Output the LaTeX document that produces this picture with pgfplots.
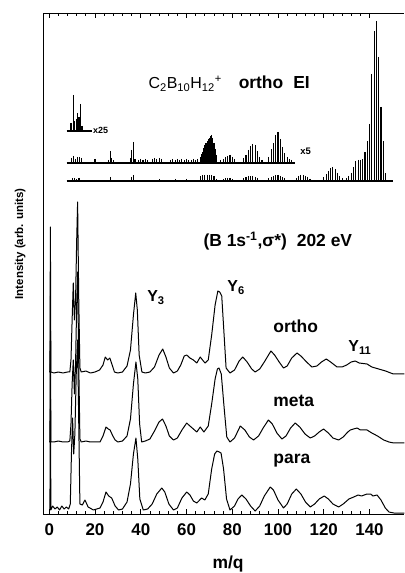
\documentclass[border=0pt]{standalone}
\usepackage{fontspec}
\setmainfont{Liberation Sans}
\usepackage{pgfplots}
\usepackage{pgfplotstable}
\pgfplotsset{compat=1.18}

% photoionisation mass spectra, offset traces (intensity in arb. units)
\pgfplotstableread{
m I
0.0 142
0.3 142
0.5 287
0.7 142
2 141
4 142
6 141
8 142
9.0 142
9.5 154
10.0 194
10.5 231
11.0 194
11.5 214
12.0 274
12.4 312
12.9 214
13.4 146
14 142
16 143
18 141
20 142
22 144
23.5 149
24.5 157
25.5 154
26.5 156
27.5 149
28.5 142
30 141
32 142
34 148
35.5 164
36.8 199
37.8 221
38.5 204
39.3 159
40.5 142
42 141
44 142
46 147
48 159
49.6 165
51 157
52.5 146
54.3 141
56 143
57.5 149
59 158
60.1 159
61.5 156
63 154
64.5 151
66 157
67 154
68.1 151
69.5 154
71 179
72.5 209
73.7 223
74.5 222
75.4 218
76.3 184
77.3 146
79 141
81 144
83 153
84.6 157
86.5 152
88.5 145
90 142
92 145
94 152
96.9 163
98.5 159
100.5 152
102.4 146
104 148
106 156
108.3 161
110 158
112.5 152
114.8 147
117 148
119 152
121.1 155
123 152
125.8 147
128 147
130 149
132 152
133.8 153
135.5 151
138.9 150
141 147
144 145
147 143
150.4 140
155.2 140
}\ortho

\pgfplotstableread{
m I
0.0 72
0.3 72
0.5 218
0.7 72
2 72
4 73
6 72
8 72
9.0 73
9.5 90
10.0 130
10.5 154
11.0 120
11.5 150
12.0 210
12.4 242
12.9 150
13.4 75
14 72
16 73
18 72
20 72
22.2 72
23.5 78
24.8 87
25.8 85
26.6 84
27.8 78
28.8 74
30 72
32 73
34 78
35.5 95
36.8 130
37.9 152
38.7 135
39.5 90
40.4 72
42 73
44 75
46 83
48 92
49.5 95
51 88
52.5 78
54.3 74
56 76
58 84
60.1 91
61 89
62.5 86
64.5 82
66 87
67.6 82
69.5 88
71 110
72.5 135
73.5 145
74.2 146
75.2 140
76.3 110
77.6 77
79 72
81 76
83.5 88
85.5 84
87.5 77
89.3 74
91.5 78
93.5 86
95.8 94
97.5 90
99.5 81
101.7 75
103.5 78
105.5 86
107.5 91
109.5 87
111.8 80
114.1 76
116 78
118 82
119.9 85
122 81
124 76
126.5 74
128.5 77
130.5 82
131.6 84
133 85
134.6 86
136 84
138.9 84
141 81
143.5 78
146.2 74
148.5 72
150.6 71
155.2 71
}\meta

\pgfplotstableread{
m I
0.0 4
0.3 4
0.5 150
0.7 4
1.5 8
2.5 5
3.5 7
4.5 4
5.5 8
6.5 5
7.5 7
8.5 5
9.2 10
9.7 60
10.2 96
10.7 60
11.2 80
11.8 140
12.4 174
12.9 90
13.4 10
14.5 9
15.6 14
17 7
19.3 4
22.2 6
23.5 12
24.8 22
26 18
27.3 16
28.8 8
30.3 4
32 5
34 12
35.5 30
36.8 60
37.9 76
38.7 55
39.6 15
41.1 4
43 5
45 10
47 20
49.2 26
50.5 22
52.3 10
54.3 4
56 6
58 16
60.1 22
61.5 19
63 13
64.5 11
66.6 16
68 14
69.5 20
71 45
72.3 60
73.3 63
74.3 62
75.1 61
76.2 45
77.5 15
79 4
81 8
82.5 15
84.2 19
86 15
88 8
90 3
92 8
94 18
96.6 27
98 24
100 14
102.4 6
104 10
106 20
108 25
110 20
112 12
114.1 7
116 10
118 15
120.2 18
122 15
124 10
126.5 7
128.5 10
131 15
133.1 17
135 19
136.5 18
138.9 20
140.5 20
141.5 18
143.3 19
145 14
146.9 6
148.5 2
150.6 1
155.2 1
}\para

% EI stick spectrum: heights above each baseline
\pgfplotstableread{
m h
9.5 8
10.6 36
11.2 10
11.8 12
12.5 18
13.0 14
13.8 27
14.3 5
}\eiA

\pgfplotstableread{
m h
9.8 5
10.6 7
11.5 4
12.4 6
13.2 6
14.1 5
20 4
25.9 3
26.6 12
27.3 5
28.2 3
35.6 5
36.1 13
36.8 21
37.5 4
39 3
40 4
41 3
42 4
43 3
45 4
46 5
47 4
48 5
49 4
53 3
54 4
55 3
56 4
57 3
58 4
59 3
60 4
61 3
62 3
63 4
64 3
65 4
66 6
66.5 9
67 11
67.5 15
68 18
68.5 20
69 22
69.5 24
70 25
70.5 27
71 28
71.5 25
72 20
72.5 14
73 8
75 3
76 4
77 6
78 7
79 8
80 6
81 4
85 5
86 8
87 13
88 17
89 19
90 18
91 12
92 6
93 3
96 6
97 14
98 20
99 28
100 31
101 24
102 16
103 10
104 6
105 4
106 3
}\eiB

\pgfplotstableread{
m h
10 3
11 3
12 2
13 3
26.6 4
36 4
37 6
48 2
55 2
60 2
66 5
67 6
68 6
69 6
70 6
71 6
72 5
73 2
76 2
77 3
78 3
79 3
80 2
85 3
86 4
87 5
88 5
89 5
90 4
91 3
96 3
97 4
98 5
99 6
100 6
101 5
102 4
103 3
108 3
109 5
110 6
111 6
112 5
113 4
114 2
120 4
121 7
122 10
123 13
124 14
125 12
126 8
127 5
128 3
130 3
131 5
132 8
133 14
134 20
135 21
136 21
137 22
138 29
139 40
140 57
141 107
142 150
143 160
144 124
145 74
146 40
147 8
}\eiC

\begin{document}
\begin{tikzpicture}
\path[use as bounding box] (-43.3bp,-59bp) rectangle (361bp,514bp);
\begin{axis}[
  scale only axis,
  width=361bp, height=501bp,
  xmin=-2.6, xmax=155.2,
  ymin=0, ymax=501,
  axis x line*=box,
  axis y line*=left,
  x axis line style={-},
  y axis line style={-},
  ytick=\empty,
  xtick={0,20,...,140},
  minor x tick num=4,
  tick align=inside,
  major tick length=5bp,
  minor tick length=3bp,
  tick style={black, line width=0.8bp},
  axis line style={line width=0.9bp},
  /pgf/number format/assume math mode=true,
  xticklabel style={font=\fontsize{17}{17}\selectfont\bfseries, yshift=-6bp},
  ylabel={Intensity (arb. units)},
  xlabel={m/q},
  every axis y label/.style={at={(axis description cs:-0.064,0.539)}, rotate=90, anchor=center, font=\fontsize{11.5}{12}\selectfont\bfseries},
  every axis x label/.style={at={(axis description cs:0.512,-0.109)}, anchor=base, font=\fontsize{17.5}{18}\selectfont\bfseries},
  clip mode=individual,
  every axis plot/.append style={line join=round},
  sticks/.style={draw=none, mark=none,
    error bars/.cd, y dir=minus, y explicit, error mark=none,
    error bar style={draw=black, line width=1.1bp}},
]
\addplot[black, line width=1bp] table[x=m, y=I] {\para};
\addplot[black, line width=1bp] table[x=m, y=I] {\meta};
\addplot[black, line width=1bp] table[x=m, y=I] {\ortho};

% EI baselines and sticks
\addplot[black, line width=1.2bp] coordinates {(7.6,383) (18.6,383)};
\addplot[black, line width=1.2bp] coordinates {(7.6,351) (107.5,351)};
\addplot[black, line width=1.2bp] coordinates {(7.6,333) (150.4,333)};
\addplot[sticks] table[x=m, y expr=\thisrow{h}+383, y error=h] {\eiA};
\addplot[sticks] table[x=m, y expr=\thisrow{h}+351, y error=h] {\eiB};
\addplot[sticks] table[x=m, y expr=\thisrow{h}+333, y error=h] {\eiC};

\node[anchor=base west, font=\fontsize{16}{16}\selectfont] at (axis cs:41.9,425)
  {C\textsubscript{2}B\textsubscript{10}H\textsubscript{12}\textsuperscript{+}};
\node[anchor=base west, font=\fontsize{17.5}{18}\selectfont\bfseries] at (axis cs:81.3,425) {ortho\hspace{10bp}EI};
\node[anchor=west, font=\fontsize{9}{9}\selectfont\bfseries, inner sep=0pt] at (axis cs:19.1,383.5) {x25};
\node[anchor=west, font=\fontsize{9.5}{9.5}\selectfont\bfseries, inner sep=0pt] at (axis cs:109.7,363) {x5};
\node[anchor=base west, font=\fontsize{17.5}{18}\selectfont\bfseries] at (axis cs:65.9,267.3)
  {(B 1s\textsuperscript{-1},σ*)\hspace{10bp}202 eV};
\node[anchor=base west, font=\fontsize{16}{16}\selectfont\bfseries, inner sep=0pt] at (axis cs:42.8,212) {Y\textsubscript{3}};
\node[anchor=base west, font=\fontsize{16}{16}\selectfont\bfseries, inner sep=0pt] at (axis cs:77.8,222) {Y\textsubscript{6}};
\node[anchor=base west, font=\fontsize{16}{16}\selectfont\bfseries, inner sep=0pt] at (axis cs:130.7,162) {Y\textsubscript{11}};
\node[anchor=base west, font=\fontsize{17.5}{18}\selectfont\bfseries, inner sep=0pt] at (axis cs:97.9,181) {ortho};
\node[anchor=base west, font=\fontsize{17.5}{18}\selectfont\bfseries, inner sep=0pt] at (axis cs:97.9,107) {meta};
\node[anchor=base west, font=\fontsize{17.5}{18}\selectfont\bfseries, inner sep=0pt] at (axis cs:97.9,51) {para};
\end{axis}
\end{tikzpicture}
\end{document}
